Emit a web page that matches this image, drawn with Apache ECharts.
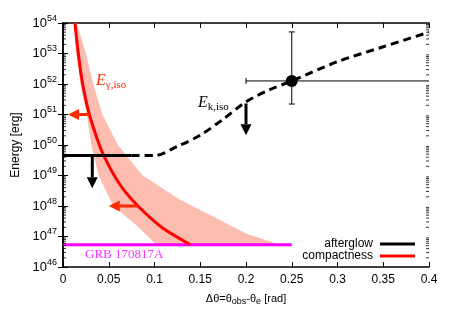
<!DOCTYPE html>
<html>
<head>
<meta charset="utf-8">
<script src="https://cdn.jsdelivr.net/npm/echarts@6/dist/echarts.min.js"></script>
<style>
  html, body { margin: 0; padding: 0; background: #fff; }
  #main { width: 463px; height: 327px; }
</style>
</head>
<body>
<div id="main"></div>
<script>
// axis
var yMin = 1e46, yMax = 1e54;

// GRB 170817A observed energy
var grbLevel = 5.4e46;
var grbLine = [[0, grbLevel], [0.25, grbLevel]];

// afterglow upper limit (solid) and model curve (dashed)
var afterglowSolid = [[0, 4.5e49], [0.075, 4.5e49]];
var afterglowDashed = [
  [0.075, 4.5e49], [0.1, 4.5e49], [0.125, 9e49], [0.15, 2.1e50], [0.175, 7e50],
  [0.2, 2.6e51], [0.225, 6.3e51], [0.25, 1.26e52], [0.3, 5.4e52], [0.35, 1.66e53], [0.4, 5e53]
];

// compactness curve
var compactness = [
  [0.0131, 1e54], [0.0167, 1e53], [0.0215, 1e52], [0.0288, 1e51], [0.0397, 1e50],
  [0.0446, 4.5e49], [0.056, 1e49], [0.0666, 3.3e48], [0.0819, 1e48], [0.107, 2.1e47], [0.139, 5.4e46]
];

// compactness uncertainty band
var bandUpper = [
  [0.015, 1e54], [0.025, 1e53], [0.033, 1e52], [0.043, 1e51], [0.060, 1e50],
  [0.087, 1e49], [0.128, 1.6e48], [0.164, 4.5e47], [0.2, 1.26e47], [0.237, 5.4e46]
];
var bandLower = [
  [0.012, 1e54], [0.0145, 1e53], [0.019, 1e52], [0.026, 1e51], [0.031, 1e50],
  [0.039, 1e49], [0.055, 1e48], [0.082, 2.1e47], [0.102, 5.4e46]
];

// data point with error bars: x, y, xlo, xhi, ylo, yhi
var obsPoint = [[0.25, 1.26e52, 0.2, 0.4, 2.2e51, 5.1e53]];

// arrows: x1, y1, x2, y2, color
var arrows = [
  [0.032, 4.5e49, 0.032, 3.8e48, '#000'],
  [0.2, 2.3e51, 0.2, 2.1e50, '#000'],
  [0.029, 1e51, 0.0055, 1e51, '#ff2a00'],
  [0.082, 1e48, 0.05, 1e48, '#ff2a00']
];

// log minor ticks (2..9 x 10^n)
var minorTicks = [];
for (var e = 46; e < 54; e++) {
  for (var m = 2; m <= 9; m++) minorTicks.push([m * Math.pow(10, e)]);
}

var chart = echarts.init(document.getElementById('main'));
var sans = '"Liberation Sans", Arial, sans-serif';
var serif = '"Liberation Serif", "Times New Roman", serif';

var option = {
  animation: false,
  grid: { left: 63, top: 23, right: 34, bottom: 60 },
  legend: {
    orient: 'vertical',
    right: 48,
    top: 238,
    padding: 0,
    align: 'right',
    itemWidth: 35,
    itemHeight: 3,
    itemGap: 0,
    textStyle: { fontFamily: sans, fontSize: 12, lineHeight: 12, color: '#000', padding: [0, 2, 0, 0] },
    data: [
      { name: 'afterglow', icon: 'rect', itemStyle: { color: '#000' } },
      { name: 'compactness', icon: 'rect', itemStyle: { color: '#ff0000' } }
    ]
  },
  xAxis: [
    {
      type: 'value', min: 0, max: 0.4, interval: 0.05,
      name: '{t|Δθ=θ}{s|obs}{t|-θ}{s|e}{t| [rad]}',
      nameLocation: 'middle', nameGap: 24,
      nameTextStyle: {
        rich: {
          t: { fontFamily: sans, fontSize: 11, color: '#000' },
          s: { fontFamily: sans, fontSize: 9, color: '#000', padding: [6, 0, 0, 0] }
        }
      },
      axisLine: { lineStyle: { color: '#000', width: 1.5 } },
      axisTick: { inside: true, length: 5, lineStyle: { color: '#000' } },
      axisLabel: { fontFamily: sans, fontSize: 12, color: '#000', margin: 7 },
      splitLine: { show: false }
    },
    {
      type: 'value', min: 0, max: 0.4, interval: 0.05, position: 'top',
      axisLine: { lineStyle: { color: '#000', width: 1.5 } },
      axisTick: { inside: true, length: 5, lineStyle: { color: '#000' } },
      axisLabel: { show: false },
      splitLine: { show: false }
    }
  ],
  yAxis: [
    {
      type: 'log', logBase: 10, min: yMin, max: yMax, splitNumber: 8,
      name: 'Energy [erg]', nameLocation: 'middle', nameGap: 33,
      nameTextStyle: { fontFamily: sans, fontSize: 12, color: '#000' },
      axisLine: { show: true, lineStyle: { color: '#000', width: 1.5 } },
      axisTick: { inside: true, length: 5, lineStyle: { color: '#000' } },
      axisLabel: {
        fontFamily: sans, fontSize: 13, color: '#000', margin: 6,
        formatter: function (v) {
          return '10{sup|' + Math.round(Math.log10(v)) + '}';
        },
        rich: { sup: { fontFamily: sans, fontSize: 9, color: '#000', padding: [0, 0, 9, 0] } }
      },
      splitLine: { show: false }
    },
    {
      type: 'log', logBase: 10, min: yMin, max: yMax, splitNumber: 8, position: 'right',
      axisLine: { show: true, lineStyle: { color: '#000', width: 1.5 } },
      axisTick: { inside: true, length: 5, lineStyle: { color: '#000' } },
      axisLabel: { show: false },
      splitLine: { show: false }
    }
  ],
  graphic: [
    {
      type: 'text', left: 96, top: 73, z: 100,
      style: {
        text: '{e|E}{s|γ,iso}',
        rich: {
          e: { fontFamily: serif, fontStyle: 'italic', fontSize: 16, fill: '#ff2a00' },
          s: { fontFamily: serif, fontSize: 11, fill: '#ff2a00', padding: [8, 0, 0, 0] }
        }
      }
    },
    {
      type: 'text', left: 198, top: 95, z: 100,
      style: {
        text: '{e|E}{s|k,iso}',
        rich: {
          e: { fontFamily: serif, fontStyle: 'italic', fontSize: 16, fill: '#000' },
          s: { fontFamily: serif, fontSize: 11, fill: '#000', padding: [8, 0, 0, 0] }
        }
      }
    },
    {
      type: 'text', left: 85, top: 248, z: 100,
      style: { text: 'GRB 170817A', fontFamily: serif, fontSize: 13, fill: '#ff33ff' }
    }
  ],
  series: [
    {
      type: 'custom', name: 'band', z: 1, silent: true,
      data: [0],
      renderItem: function (params, api) {
        var pts = [];
        bandLower.forEach(function (p) { pts.push(api.coord(p)); });
        for (var i = bandUpper.length - 1; i >= 0; i--) pts.push(api.coord(bandUpper[i]));
        return { type: 'polygon', shape: { points: pts }, style: { fill: '#fcbcb0' } };
      }
    },
    {
      type: 'line', name: 'GRB', data: grbLine, z: 3, symbol: 'none',
      lineStyle: { color: '#ff00ff', width: 3 }
    },
    {
      type: 'line', name: 'compactness', data: compactness, z: 4, symbol: 'none',
      smooth: 0.25,
      itemStyle: { color: '#ff0000' },
      lineStyle: { color: '#ff0000', width: 3 }
    },
    {
      type: 'line', name: 'afterglow', data: afterglowSolid, z: 5, symbol: 'none',
      itemStyle: { color: '#000' },
      lineStyle: { color: '#000', width: 3 }
    },
    {
      type: 'line', name: 'afterglow model', data: afterglowDashed, z: 5, symbol: 'none',
      smooth: 0.3,
      lineStyle: { color: '#000', width: 3, type: [8, 5] }
    },
    {
      type: 'custom', name: 'arrows', z: 6, silent: true,
      data: arrows,
      renderItem: function (params, api) {
        var a = arrows[params.dataIndex];
        var p1 = api.coord([a[0], a[1]]);
        var p2 = api.coord([a[2], a[3]]);
        var dx = p2[0] - p1[0], dy = p2[1] - p1[1];
        var len = Math.sqrt(dx * dx + dy * dy);
        var ux = dx / len, uy = dy / len;
        var hl = 11, hw = 5.5;
        var base = [p2[0] - ux * hl, p2[1] - uy * hl];
        return {
          type: 'group',
          children: [
            { type: 'line', shape: { x1: p1[0], y1: p1[1], x2: base[0], y2: base[1] },
              style: { stroke: a[4], lineWidth: 3 } },
            { type: 'polygon', shape: { points: [
                p2,
                [base[0] - uy * hw, base[1] + ux * hw],
                [base[0] + uy * hw, base[1] - ux * hw]
              ] }, style: { fill: a[4] } }
          ]
        };
      }
    },
    {
      type: 'custom', name: 'obs', z: 7, silent: true,
      data: obsPoint,
      renderItem: function (params, api) {
        var d = obsPoint[params.dataIndex];
        var c = api.coord([d[0], d[1]]);
        var xl = api.coord([d[2], d[1]]), xh = api.coord([d[3], d[1]]);
        var yl = api.coord([d[0], d[4]]), yh = api.coord([d[0], d[5]]);
        var st = { stroke: '#000', lineWidth: 1 };
        return {
          type: 'group',
          children: [
            { type: 'line', shape: { x1: xl[0], y1: c[1], x2: xh[0], y2: c[1] }, style: st },
            { type: 'line', shape: { x1: xl[0], y1: c[1] - 3, x2: xl[0], y2: c[1] + 3 }, style: st },
            { type: 'line', shape: { x1: c[0], y1: yl[1], x2: c[0], y2: yh[1] }, style: st },
            { type: 'line', shape: { x1: c[0] - 3, y1: yl[1], x2: c[0] + 3, y2: yl[1] }, style: st },
            { type: 'line', shape: { x1: c[0] - 3, y1: yh[1], x2: c[0] + 3, y2: yh[1] }, style: st },
            { type: 'circle', shape: { cx: c[0], cy: c[1], r: 6 }, style: { fill: '#000' } }
          ]
        };
      }
    },
    {
      type: 'custom', name: 'minor ticks', z: 8, silent: true,
      data: minorTicks,
      renderItem: function (params, api) {
        var v = api.value(0);
        var l = api.coord([0, v]), r = api.coord([0.4, v]);
        var st = { stroke: '#000', lineWidth: 0.8 };
        return {
          type: 'group',
          children: [
            { type: 'line', shape: { x1: l[0], y1: l[1], x2: l[0] + 3, y2: l[1] }, style: st },
            { type: 'line', shape: { x1: r[0], y1: r[1], x2: r[0] - 3, y2: r[1] }, style: st }
          ]
        };
      }
    }
  ]
};
chart.setOption(option);
</script>
</body>
</html>
